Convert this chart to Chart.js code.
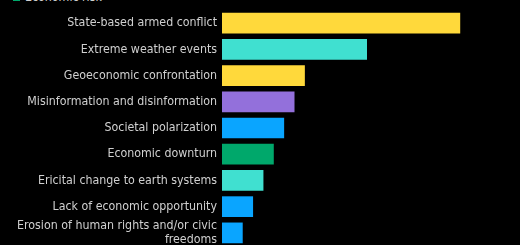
<!DOCTYPE html>
<html>
<head>
<meta charset="utf-8">
<script src="https://cdn.jsdelivr.net/npm/chart.js@4.4.1/dist/chart.umd.min.js"></script>
<style>
    html, body { margin: 0; padding: 0; background: #000; overflow: hidden; }
    #wrap { position: relative; width: 520px; height: 245px; overflow: hidden; }
    #grafico { position: absolute; left: 0; top: 0; }
    .leyenda { position: absolute; left: 13px; top: -10px; font: 12.3px 'DejaVu Sans Condensed', sans-serif; color: #d0d0d0; }
    .leyenda span { display: inline-block; width: 7px; height: 7px; background: #00A86B; margin-right: 5px; }
</style>
</head>
<body>
<div id="wrap">
    <div class="leyenda"><span></span>Economic risk</div>
    <canvas id="grafico" width="520" height="256"></canvas>
</div>
<script>
// Datos (porcentaje de encuestados)
const categorias = [
    'State-based armed conflict',
    'Extreme weather events',
    'Geoeconomic confrontation',
    'Misinformation and disinformation',
    'Societal polarization',
    'Economic downturn',
    'Ericital change to earth systems',
    'Lack of economic opportunity',
    ['Erosion of human rights and/or civic', 'freedoms']
];
const valores = [23, 14, 8, 7, 6, 5, 4, 3, 2];
const colores = ['#FFD93B', '#40E0D0', '#FFD93B', '#9370DB', '#0AA5FF', '#00A86B', '#40E0D0', '#0AA5FF', '#0AA5FF'];

new Chart(document.getElementById('grafico'), {
    type: 'bar',
    data: {
        labels: categorias,
        datasets: [{
            data: valores,
            backgroundColor: colores,
            borderWidth: 0,
            barPercentage: 0.79,
            categoryPercentage: 1
        }]
    },
    options: {
        indexAxis: 'y',
        responsive: false,
        animation: false,
        layout: { padding: { top: 10, bottom: 10, right: 8, left: 0 } },
        plugins: { legend: { display: false }, tooltip: { enabled: false } },
        scales: {
            x: { display: false, min: 0, max: 28 },
            y: {
                grid: { display: false, drawTicks: false, tickLength: 0 },
                border: { display: false },
                ticks: {
                    autoSkip: false,
                    color: '#d0d0d0',
                    padding: 5,
                    font: { family: 'DejaVu Sans Condensed', size: 12.3, lineHeight: 1.1 }
                },
                afterFit: (scale) => {
                    scale.width = 222;
                    scale.paddingTop = 0;
                    scale.paddingBottom = 0;
                }
            }
        }
    }
});
</script>
</body>
</html>
